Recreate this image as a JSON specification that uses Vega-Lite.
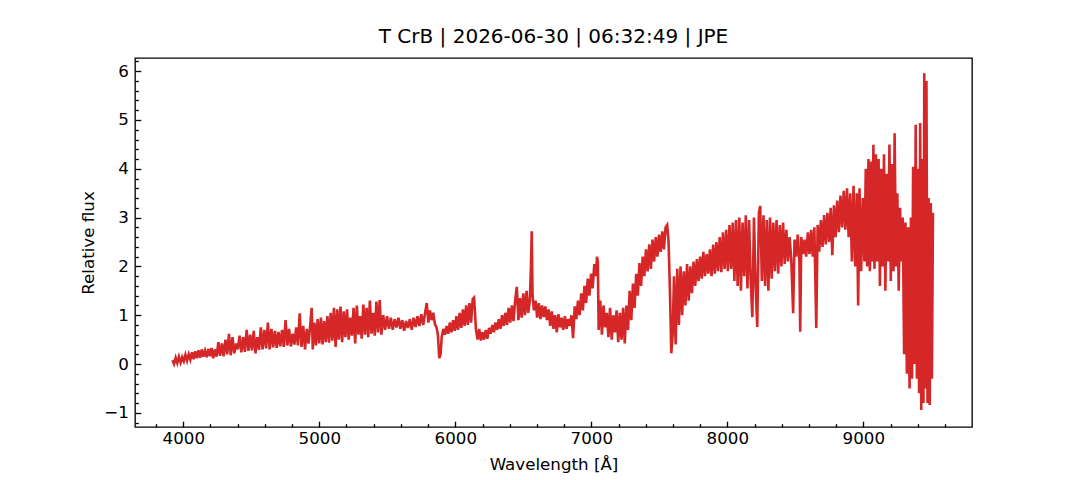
{
  "$schema": "https://vega.github.io/schema/vega-lite/v6.json",
  "autosize": "none",
  "width": 837,
  "height": 369,
  "padding": {"left": 135, "top": 58, "right": 108, "bottom": 53},
  "background": "white",
  "title": {"text": "T CrB | 2026-06-30 | 06:32:49 | JPE", "fontSize": 20, "fontWeight": "normal", "font": "DejaVu Sans", "color": "black", "offset": 6},
  "config": {
    "font": "DejaVu Sans",
    "view": {"stroke": "black", "strokeWidth": 1.33},
    "axis": {"grid": false, "domain": false, "labelFont": "DejaVu Sans", "labelFontSize": 16.7, "labelColor": "black", "titleFont": "DejaVu Sans", "titleFontSize": 16.7, "titleFontWeight": "normal", "titleColor": "black", "tickColor": "black", "tickWidth": 1.33, "labelOverlap": false, "labelFlush": false}
  },
  "data": {"values": [
    {"w":3920,"f":0.08},{"w":3932,"f":0.0},{"w":3944,"f":0.13},{"w":3956,"f":0.02},{"w":3968,"f":0.15},{"w":3980,"f":0.03},{"w":3992,"f":0.14},{"w":4004,"f":0.06},{"w":4016,"f":0.19},{"w":4028,"f":0.07},{"w":4040,"f":0.2},{"w":4052,"f":0.09},{"w":4064,"f":0.24},{"w":4076,"f":0.1},{"w":4088,"f":0.26},{"w":4100,"f":0.12},{"w":4112,"f":0.28},{"w":4124,"f":0.13},{"w":4136,"f":0.3},{"w":4148,"f":0.15},{"w":4160,"f":0.27},{"w":4172,"f":0.14},{"w":4184,"f":0.31},{"w":4196,"f":0.16},{"w":4208,"f":0.33},{"w":4220,"f":0.12},{"w":4232,"f":0.3},
    {"w":4245,"f":0.15},{"w":4258,"f":0.45},{"w":4271,"f":0.17},{"w":4284,"f":0.42},{"w":4297,"f":0.16},{"w":4310,"f":0.5},{"w":4323,"f":0.2},{"w":4336,"f":0.62},{"w":4349,"f":0.18},{"w":4362,"f":0.55},{"w":4375,"f":0.22},{"w":4388,"f":0.42},{"w":4401,"f":0.3},{"w":4414,"f":0.58},{"w":4427,"f":0.24},{"w":4440,"f":0.55},{"w":4453,"f":0.25},{"w":4466,"f":0.7},{"w":4479,"f":0.27},{"w":4492,"f":0.6},{"w":4505,"f":0.28},{"w":4518,"f":0.68},{"w":4531,"f":0.22},{"w":4544,"f":0.55},{"w":4557,"f":0.29},{"w":4570,"f":0.75},{"w":4583,"f":0.3},{"w":4596,"f":0.7},{"w":4609,"f":0.32},{"w":4622,"f":0.85},{"w":4635,"f":0.3},
    {"w":4648,"f":0.72},{"w":4661,"f":0.34},{"w":4674,"f":0.68},{"w":4687,"f":0.33},{"w":4700,"f":0.66},{"w":4713,"f":0.36},{"w":4726,"f":0.7},{"w":4739,"f":0.35},{"w":4752,"f":0.9},{"w":4765,"f":0.38},{"w":4778,"f":0.72},{"w":4791,"f":0.36},{"w":4804,"f":0.62},{"w":4817,"f":0.4},{"w":4830,"f":0.75},{"w":4843,"f":0.38},{"w":4856,"f":1.04},{"w":4869,"f":0.35},{"w":4882,"f":0.78},{"w":4895,"f":0.3},{"w":4908,"f":0.72},{"w":4921,"f":0.42},{"w":4934,"f":0.82},{"w":4944,"f":1.15},{"w":4952,"f":0.3},
    {"w":4964,"f":0.85},{"w":4976,"f":0.38},{"w":4988,"f":0.92},{"w":5000,"f":0.42},{"w":5012,"f":0.95},{"w":5024,"f":0.4},{"w":5036,"f":0.88},{"w":5048,"f":0.45},{"w":5060,"f":0.98},{"w":5072,"f":0.44},{"w":5084,"f":1.05},{"w":5096,"f":0.48},{"w":5108,"f":1.15},{"w":5120,"f":0.35},{"w":5132,"f":1.12},{"w":5144,"f":0.5},{"w":5156,"f":1.18},{"w":5168,"f":0.45},
    {"w":5180,"f":1.08},{"w":5192,"f":0.55},{"w":5204,"f":1.12},{"w":5216,"f":0.5},{"w":5228,"f":0.95},{"w":5240,"f":0.58},{"w":5252,"f":1.15},{"w":5264,"f":0.42},{"w":5276,"f":1.2},{"w":5288,"f":0.6},{"w":5300,"f":0.98},{"w":5312,"f":0.52},{"w":5324,"f":1.22},{"w":5336,"f":0.6},{"w":5348,"f":1.15},{"w":5360,"f":0.55},{"w":5372,"f":1.3},{"w":5384,"f":0.62},{"w":5396,"f":1.05},{"w":5408,"f":0.58},{"w":5420,"f":1.28},{"w":5432,"f":0.65},{"w":5444,"f":1.31},{"w":5456,"f":0.6},
    {"w":5470,"f":1.0},{"w":5484,"f":0.7},{"w":5498,"f":0.98},{"w":5512,"f":0.72},{"w":5526,"f":0.95},{"w":5540,"f":0.7},{"w":5554,"f":0.92},{"w":5568,"f":0.75},{"w":5582,"f":0.95},{"w":5596,"f":0.72},{"w":5610,"f":0.9},{"w":5624,"f":0.68},{"w":5638,"f":0.88},{"w":5652,"f":0.74},{"w":5666,"f":0.92},{"w":5680,"f":0.7},{"w":5694,"f":0.95},{"w":5708,"f":0.76},{"w":5722,"f":0.98},{"w":5736,"f":0.78},{"w":5750,"f":1.02},{"w":5764,"f":0.8},{"w":5778,"f":1.05},{"w":5790,"f":1.25},{"w":5802,"f":0.85},{"w":5814,"f":1.1},{"w":5826,"f":0.9},{"w":5838,"f":1.05},{"w":5850,"f":0.82},{"w":5862,"f":0.75},{"w":5872,"f":0.6},{"w":5882,"f":0.12},{"w":5892,"f":0.2},{"w":5900,"f":0.55},
    {"w":5912,"f":0.72},{"w":5924,"f":0.6},{"w":5936,"f":0.78},{"w":5948,"f":0.62},{"w":5960,"f":0.85},{"w":5972,"f":0.65},{"w":5984,"f":0.9},{"w":5996,"f":0.68},{"w":6008,"f":0.98},{"w":6020,"f":0.7},{"w":6032,"f":1.05},{"w":6044,"f":0.74},{"w":6056,"f":1.12},{"w":6068,"f":0.78},{"w":6080,"f":1.2},{"w":6092,"f":0.8},{"w":6104,"f":1.25},{"w":6116,"f":0.85},{"w":6128,"f":1.33},{"w":6138,"f":1.36},{"w":6146,"f":1.0},{"w":6152,"f":0.7},
    {"w":6164,"f":0.5},{"w":6176,"f":0.72},{"w":6188,"f":0.48},{"w":6200,"f":0.65},{"w":6212,"f":0.5},{"w":6224,"f":0.7},{"w":6236,"f":0.52},{"w":6248,"f":0.74},
    {"w":6260,"f":0.62},{"w":6272,"f":0.8},{"w":6284,"f":0.65},{"w":6296,"f":0.85},{"w":6308,"f":0.7},{"w":6320,"f":0.92},{"w":6332,"f":0.72},{"w":6344,"f":1.0},{"w":6356,"f":0.78},{"w":6368,"f":1.05},{"w":6380,"f":0.8},{"w":6392,"f":1.15},{"w":6404,"f":0.85},{"w":6416,"f":1.2},{"w":6428,"f":0.88},{"w":6440,"f":1.3},{"w":6452,"f":1.58},{"w":6464,"f":0.9},{"w":6476,"f":1.35},{"w":6488,"f":0.95},{"w":6500,"f":1.45},{"w":6512,"f":1.0},{"w":6524,"f":1.5},{"w":6536,"f":1.05},{"w":6548,"f":1.3},{"w":6556,"f":2.0},{"w":6562,"f":2.72},{"w":6568,"f":1.4},{"w":6578,"f":1.1},
    {"w":6590,"f":1.3},{"w":6602,"f":0.95},{"w":6614,"f":1.25},{"w":6626,"f":0.92},{"w":6638,"f":1.2},{"w":6650,"f":0.96},{"w":6662,"f":1.18},{"w":6674,"f":0.9},{"w":6686,"f":1.12},
    {"w":6698,"f":0.78},{"w":6710,"f":1.08},{"w":6722,"f":0.72},{"w":6734,"f":1.0},{"w":6746,"f":0.65},{"w":6758,"f":1.02},{"w":6770,"f":0.75},{"w":6782,"f":0.95},{"w":6794,"f":0.7},{"w":6806,"f":0.98},{"w":6818,"f":0.72},{"w":6830,"f":0.92},{"w":6842,"f":0.78},{"w":6854,"f":1.0},{"w":6866,"f":0.53},
    {"w":6878,"f":1.18},{"w":6890,"f":0.92},{"w":6902,"f":1.3},{"w":6914,"f":1.0},{"w":6926,"f":1.45},{"w":6938,"f":1.1},{"w":6950,"f":1.6},{"w":6962,"f":1.25},{"w":6974,"f":1.75},{"w":6986,"f":1.4},{"w":6998,"f":1.85},{"w":7010,"f":1.55},{"w":7022,"f":2.05},{"w":7034,"f":1.8},{"w":7042,"f":2.2},{"w":7048,"f":2.1},{"w":7054,"f":0.7},
    {"w":7066,"f":1.3},{"w":7078,"f":0.6},{"w":7090,"f":1.2},{"w":7102,"f":0.75},{"w":7114,"f":1.05},{"w":7126,"f":0.55},{"w":7138,"f":1.15},{"w":7150,"f":0.5},{"w":7162,"f":1.0},{"w":7174,"f":0.65},{"w":7186,"f":1.1},{"w":7198,"f":0.45},{"w":7210,"f":1.05},{"w":7222,"f":0.5},{"w":7234,"f":1.15},{"w":7246,"f":0.42},{"w":7258,"f":1.2},{"w":7270,"f":0.7},
    {"w":7282,"f":1.5},{"w":7294,"f":0.9},{"w":7306,"f":1.65},{"w":7318,"f":1.15},{"w":7330,"f":1.85},{"w":7342,"f":1.4},{"w":7354,"f":2.07},{"w":7366,"f":1.6},{"w":7378,"f":2.2},{"w":7390,"f":1.8},{"w":7402,"f":2.35},{"w":7414,"f":1.9},{"w":7426,"f":2.45},{"w":7438,"f":1.95},{"w":7450,"f":2.55},{"w":7462,"f":2.1},{"w":7474,"f":2.6},{"w":7486,"f":2.2},{"w":7498,"f":2.65},{"w":7510,"f":2.3},{"w":7522,"f":2.72},{"w":7534,"f":2.35},{"w":7546,"f":2.8},{"w":7558,"f":2.85},{"w":7568,"f":2.5},{"w":7578,"f":1.5},{"w":7588,"f":0.22},{"w":7598,"f":0.6},
    {"w":7608,"f":1.8},{"w":7620,"f":0.4},{"w":7632,"f":1.95},{"w":7644,"f":0.8},{"w":7656,"f":2.0},{"w":7668,"f":1.0},{"w":7680,"f":1.9},{"w":7692,"f":1.2},{"w":7704,"f":2.05},{"w":7716,"f":1.3},{"w":7728,"f":2.0},{"w":7740,"f":1.45},{"w":7752,"f":2.1},{"w":7764,"f":1.6},{"w":7776,"f":2.15},{"w":7788,"f":1.7},{"w":7800,"f":2.2},{"w":7812,"f":1.75},{"w":7824,"f":2.3},{"w":7836,"f":1.8},{"w":7848,"f":2.25},{"w":7860,"f":1.85},{"w":7872,"f":2.35},
    {"w":7884,"f":1.8},{"w":7896,"f":2.45},{"w":7908,"f":1.85},{"w":7920,"f":2.5},{"w":7932,"f":1.9},{"w":7944,"f":2.6},{"w":7956,"f":1.88},{"w":7968,"f":2.7},{"w":7980,"f":1.95},{"w":7992,"f":2.75},{"w":8004,"f":1.9},{"w":8016,"f":2.85},{"w":8028,"f":1.95},{"w":8040,"f":2.9},
    {"w":8052,"f":1.7},{"w":8064,"f":2.95},{"w":8076,"f":1.6},{"w":8088,"f":3.0},{"w":8100,"f":1.5},{"w":8112,"f":2.9},{"w":8124,"f":1.8},{"w":8136,"f":3.05},{"w":8148,"f":1.55},{"w":8160,"f":2.95},{"w":8172,"f":1.7},{"w":8184,"f":0.96},{"w":8196,"f":3.0},{"w":8208,"f":1.6},{"w":8220,"f":0.76},{"w":8232,"f":3.1},{"w":8242,"f":3.24},{"w":8254,"f":1.7},{"w":8266,"f":3.05},{"w":8278,"f":1.6},{"w":8290,"f":2.95},{"w":8302,"f":1.5},{"w":8314,"f":3.0},{"w":8326,"f":1.75},{"w":8338,"f":2.9},{"w":8350,"f":1.9},{"w":8362,"f":2.95},{"w":8374,"f":1.85},{"w":8386,"f":2.85},{"w":8398,"f":2.0},{"w":8410,"f":2.9},{"w":8422,"f":2.05},{"w":8434,"f":2.75},
    {"w":8446,"f":2.1},{"w":8458,"f":2.6},{"w":8470,"f":2.15},{"w":8484,"f":1.04},{"w":8494,"f":2.55},{"w":8506,"f":2.2},{"w":8518,"f":2.65},{"w":8530,"f":2.1},{"w":8536,"f":0.66},{"w":8544,"f":2.6},{"w":8556,"f":2.25},{"w":8568,"f":2.55},{"w":8580,"f":2.2},{"w":8592,"f":2.7},{"w":8604,"f":2.25},{"w":8616,"f":2.75},{"w":8628,"f":2.2},{"w":8640,"f":2.8},{"w":8654,"f":0.74},{"w":8664,"f":2.85},
    {"w":8676,"f":2.3},{"w":8688,"f":2.95},{"w":8700,"f":2.4},{"w":8712,"f":3.05},{"w":8724,"f":2.45},{"w":8736,"f":3.1},{"w":8748,"f":2.5},{"w":8760,"f":3.2},{"w":8772,"f":2.23},{"w":8784,"f":3.25},{"w":8796,"f":2.6},{"w":8808,"f":3.35},{"w":8820,"f":2.7},{"w":8832,"f":3.45},{"w":8844,"f":2.8},{"w":8856,"f":3.55},{"w":8868,"f":2.75},{"w":8880,"f":3.6},{"w":8892,"f":2.6},{"w":8904,"f":3.5},
    {"w":8916,"f":2.1},{"w":8928,"f":3.65},{"w":8940,"f":2.0},{"w":8952,"f":3.5},{"w":8962,"f":1.2},{"w":8972,"f":3.6},{"w":8984,"f":1.9},{"w":8996,"f":3.4},{"w":9008,"f":2.1},
    {"w":9018,"f":4.0},{"w":9028,"f":2.0},{"w":9038,"f":4.2},{"w":9048,"f":1.9},{"w":9058,"f":4.15},{"w":9068,"f":2.1},{"w":9074,"f":4.49},{"w":9082,"f":1.95},{"w":9092,"f":4.3},
    {"w":9102,"f":2.1},{"w":9112,"f":4.2},{"w":9122,"f":1.6},{"w":9132,"f":4.0},{"w":9142,"f":2.0},{"w":9152,"f":4.3},{"w":9162,"f":1.5},{"w":9172,"f":3.9},{"w":9182,"f":2.1},{"w":9192,"f":4.5},{"w":9202,"f":1.7},{"w":9212,"f":4.1},{"w":9222,"f":1.9},{"w":9230,"f":4.73},
    {"w":9240,"f":2.0},{"w":9250,"f":3.5},{"w":9260,"f":1.5},{"w":9270,"f":3.2},{"w":9280,"f":2.1},{"w":9290,"f":3.0},
    {"w":9300,"f":0.2},{"w":9310,"f":2.9},{"w":9320,"f":-0.2},{"w":9330,"f":2.8},{"w":9340,"f":-0.5},{"w":9350,"f":3.0},{"w":9358,"f":-0.3},{"w":9366,"f":4.04},
    {"w":9376,"f":0.0},{"w":9385,"f":4.9},{"w":9394,"f":-0.3},{"w":9402,"f":4.0},{"w":9410,"f":-0.6},{"w":9418,"f":4.94},{"w":9426,"f":-0.94},{"w":9434,"f":4.2},{"w":9442,"f":-0.8},
    {"w":9448,"f":5.96},{"w":9456,"f":-0.5},{"w":9464,"f":5.8},{"w":9472,"f":-0.8},{"w":9480,"f":3.4},{"w":9488,"f":-0.84},{"w":9496,"f":3.3},{"w":9504,"f":-0.3},{"w":9512,"f":3.1}
  ]},
  "mark": {"type": "line", "color": "#d62728", "strokeWidth": 2.6, "clip": true},
  "encoding": {
    "x": {
      "field": "w", "type": "quantitative", "title": "Wavelength [Å]",
      "scale": {"domain": [3645, 9799], "nice": false, "zero": false},
      "axis": {
        "orient": "bottom",
        "values": [3800,4000,4200,4400,4600,4800,5000,5200,5400,5600,5800,6000,6200,6400,6600,6800,7000,7200,7400,7600,7800,8000,8200,8400,8600,8800,9000,9200,9400,9600],
        "labelExpr": "datum.value % 1000 === 0 ? format(datum.value, 'd') : ''",
        "tickSize": {"condition": {"test": "datum.value % 1000 === 0", "value": -5.8}, "value": -3.3},
        "labelPadding": 9,
        "titlePadding": 7
      }
    },
    "y": {
      "field": "f", "type": "quantitative", "title": "Relative flux",
      "scale": {"domain": [-1.29, 6.27], "nice": false, "zero": false},
      "axis": {
        "orient": "left",
        "values": [-1.2,-1,-0.8,-0.6,-0.4,-0.2,0,0.2,0.4,0.6,0.8,1,1.2,1.4,1.6,1.8,2,2.2,2.4,2.6,2.8,3,3.2,3.4,3.6,3.8,4,4.2,4.4,4.6,4.8,5,5.2,5.4,5.6,5.8,6,6.2],
        "labelExpr": "abs(datum.value - round(datum.value)) < 0.01 ? format(round(datum.value), 'd') : ''",
        "tickSize": {"condition": {"test": "abs(datum.value - round(datum.value)) < 0.01", "value": -5.8}, "value": -3.3},
        "labelPadding": 12.5,
        "titlePadding": 6
      }
    }
  }
}
